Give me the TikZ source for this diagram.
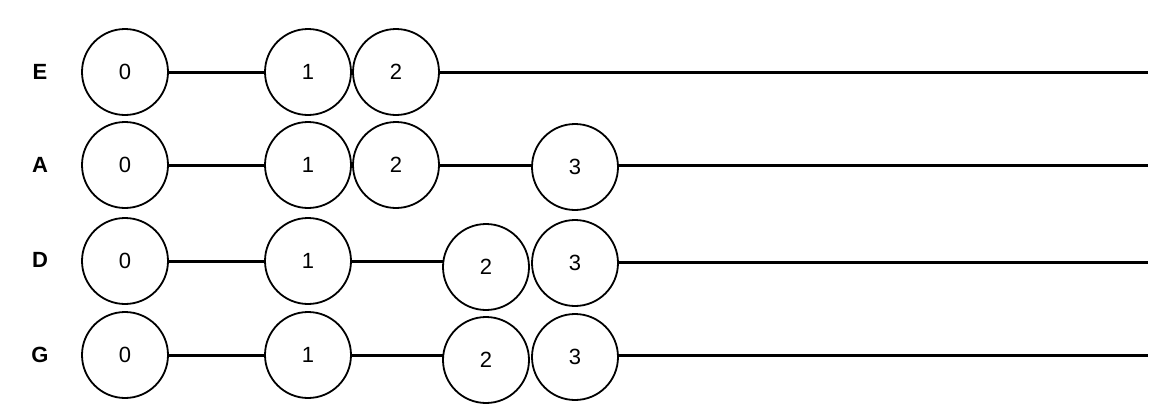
\documentclass[tikz,border=0pt]{standalone}
\usepackage{fontspec}
\setmainfont{Liberation Sans}
\begin{document}
\begin{tikzpicture}[x=1pt,y=-1pt,
  st/.style={circle,draw,line width=1.8pt,minimum size=86pt,inner sep=0pt,font=\fontsize{22}{26}\selectfont},
  lbl/.style={font=\fontsize{22}{26}\selectfont\bfseries},
  ln/.style={line width=3pt}]
\useasboundingbox (0,0) rectangle (1174,416);
% row E
\node[lbl] (lE) at (40,72) {E};
\node[st] (e0) at (125,72) {0};
\node[st] (e1) at (308,72) {1};
\node[st] (e2) at (396,72) {2};
\coordinate (eEnd) at (1148,72);
\draw[ln] (e0) -- (e1);
\draw[ln] (e2) -- (eEnd);
% row A
\node[lbl] (lA) at (40,165) {A};
\node[st] (a0) at (125,165) {0};
\node[st] (a1) at (308,165) {1};
\node[st] (a2) at (396,165) {2};
\node[st] (a3) at (575,167) {3};
\coordinate (aEnd) at (1148,165);
\draw[ln] (a0) -- (a1);
\draw[ln] (a2.east) -- (a3.west|-a2.east);
\draw[ln] (a3.east|-aEnd) -- (aEnd);
% row D
\node[lbl] (lD) at (40,260) {D};
\node[st] (d0) at (125,261) {0};
\node[st] (d1) at (308,261) {1};
\node[st] (d2) at (486,267) {2};
\node[st] (d3) at (575,263) {3};
\coordinate (dEnd) at (1148,262);
\draw[ln] (d0) -- (d1);
\draw[ln] (d1.east) -- ([xshift=2pt]d2.west|-d1.east);
\draw[ln] (d3.east|-dEnd) -- (dEnd);
% row G
\node[lbl] (lG) at (40,355) {G};
\node[st] (g0) at (125,355) {0};
\node[st] (g1) at (308,355) {1};
\node[st] (g2) at (486,360) {2};
\node[st] (g3) at (575,357) {3};
\coordinate (gEnd) at (1148,355);
\draw[ln] (g0) -- (g1);
\draw[ln] (g1.east) -- ([xshift=2pt]g2.west|-g1.east);
\draw[ln] (g3.east|-gEnd) -- (gEnd);
\end{tikzpicture}
\end{document}
